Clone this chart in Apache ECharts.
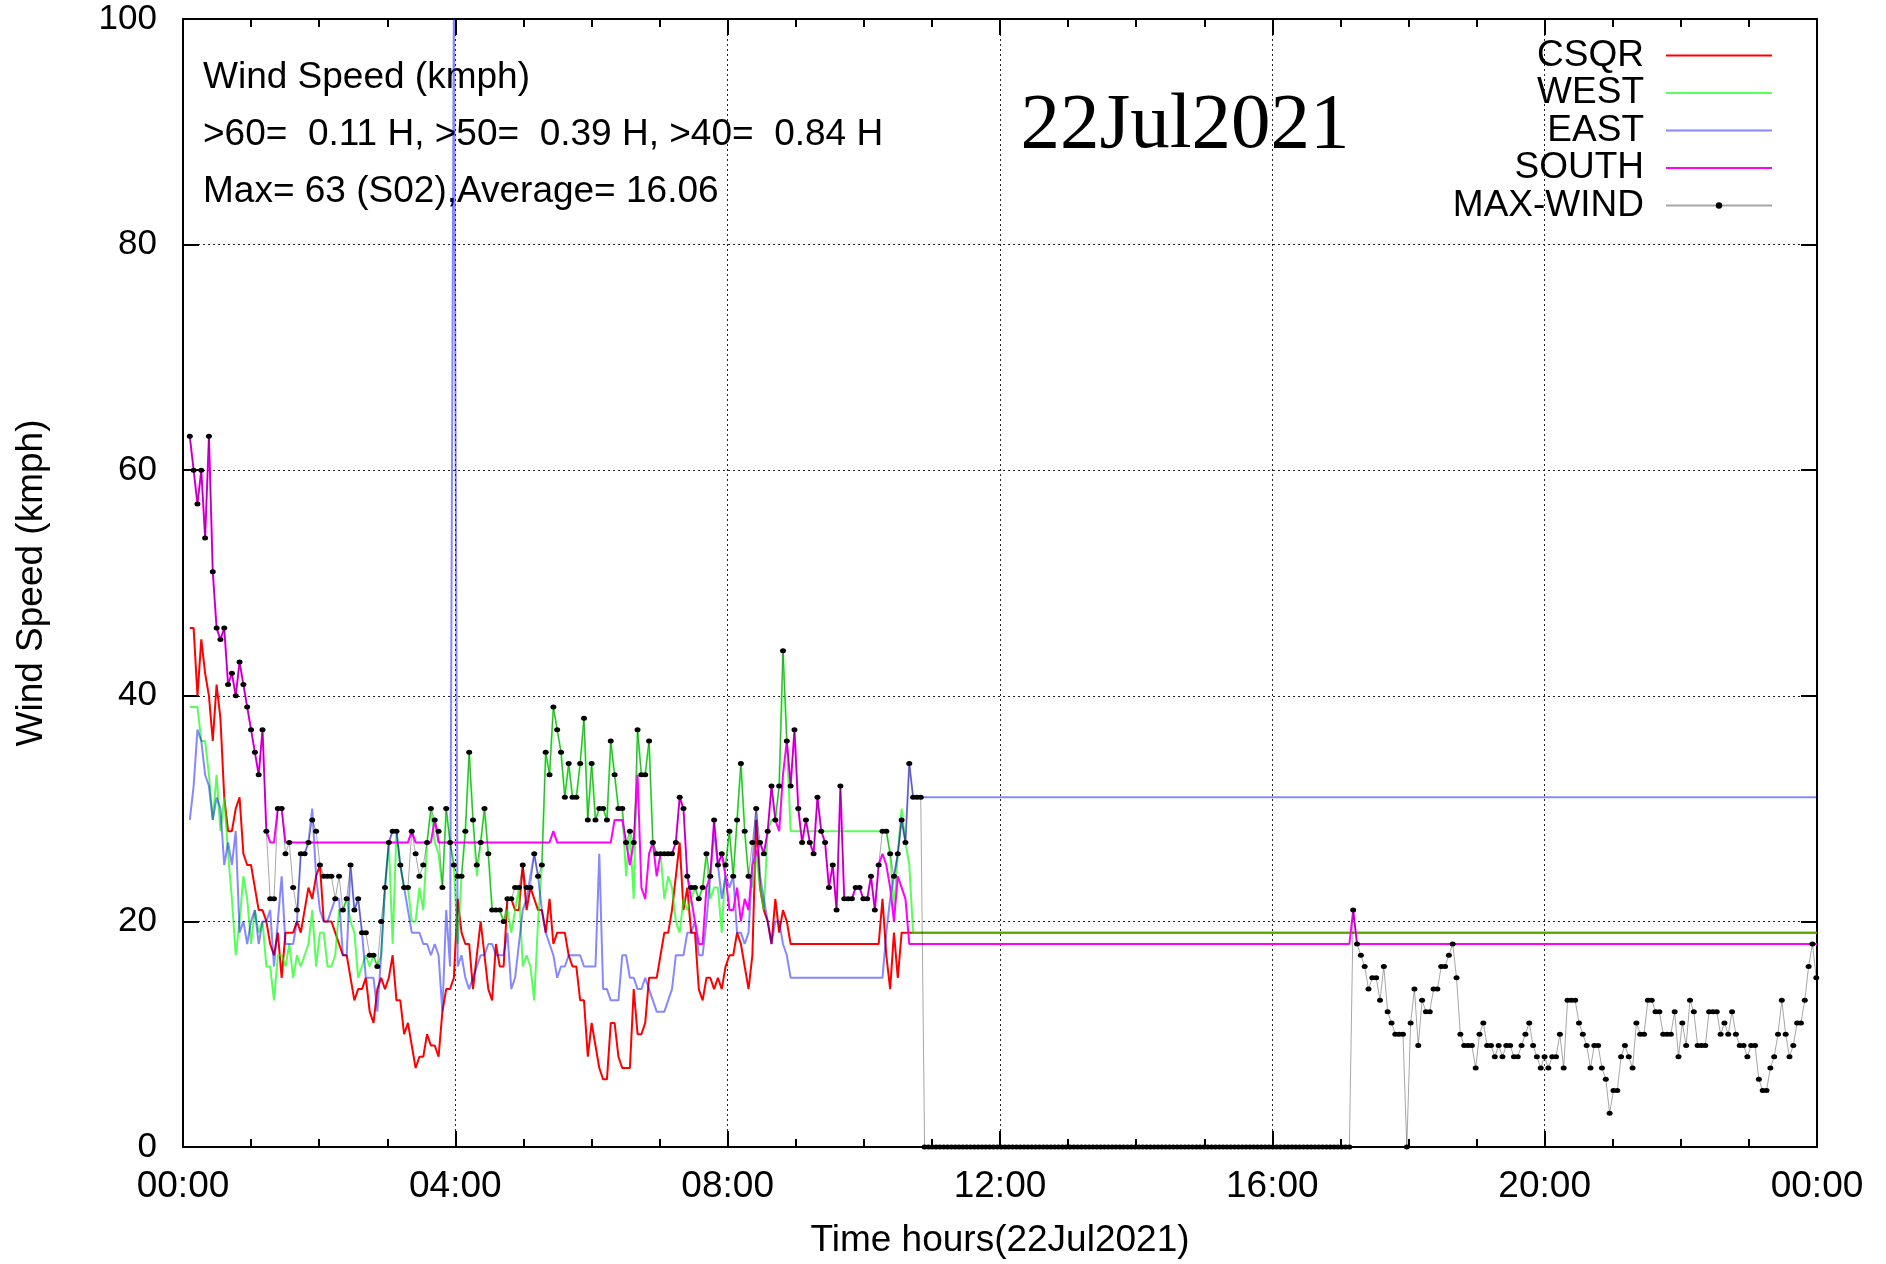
<!DOCTYPE html>
<html><head><meta charset="utf-8">
<script src="https://cdn.jsdelivr.net/npm/echarts@6/dist/echarts.min.js"></script>
<style>html,body{margin:0;padding:0;background:#fff;}#c{width:1886px;height:1264px;}</style>
</head><body><div id="c"></div>
<script>
// ---------- data ----------
const seriesNames = ['CSQR', 'WEST', 'EAST', 'SOUTH', 'MAX-WIND'];
const xTickLabels = ['00:00', '04:00', '08:00', '12:00', '16:00', '20:00', '00:00'];
const infoLines = ['Wind Speed (kmph)', '>60=  0.11 H, >50=  0.39 H, >40=  0.84 H', 'Max= 63 (S02),Average= 16.06'];
const dateTitle = '22Jul2021';
const sampleStart = 0.10;    // hour of first sample
const sampleStep = 0.05621;  // hours between samples (~3.4 min)
const dayEnd = 24;

// morning samples (index 0..191) for the four stations
const csqr = [46,46,40,45,42,40,36,41,38,31, 28,28,30,31,26,25,25,23,21,21, 20,18,17,19,15,19,19,19,20,19,
  21,23,22,24,25,20,20,20,19,18, 17,17,15,13,14,14,15,12,11,14, 15,14,15,17,13,13,10,11,9,7,
  8,8,10,9,9,8,12,14,14,15, 22,19,18,18,14,17,20,17,14,13, 18,16,16,22,22,21,21,25,21,23,
  22,21,21,19,22,18,19,19,19,17, 16,16,13,13,8,11,9,7,6,6, 11,11,8,7,7,7,14,10,10,11,
  15,15,15,17,19,19,21,24,27,21, 23,19,19,14,13,15,15,14,15,14, 16,17,17,19,18,16,14,17,29,23,
  21,20,18,22,19,21,20,18,18,18, 18,18,18,18,18,18,18,18,18,18, 18,18,18,18,18,18,18,18,18,18,
  18,22,17,14,19,15,19,19,19,19, 19,19];
const west = [39,39,39,36,36,33,29,33,28,31, 26,22,17,20,24,22,18,21,19,20, 16,16,13,17,17,16,18,15,17,16,
  17,18,21,16,19,19,16,16,17,21, 21,22,20,19,15,16,17,16,17,16, 17,23,27,18,28,25,23,23,20,20,
  23,21,27,30,27,26,23,30,27,25, 18,24,28,35,29,24,27,30,26,21, 21,21,20,21,19,21,23,16,17,16,
  13,20,25,35,33,39,37,35,31,34, 31,31,34,38,29,34,29,30,30,29, 36,33,30,30,24,28,22,37,33,33,
  36,27,26,26,22,24,23,20,19,22, 21,22,23,22,23,26,22,23,23,19, 25,28,24,29,34,28,24,23,26,23,
  21,28,29,29,32,44,36,28,28,28, 28,28,28,28,28,28,28,28,28,28, 28,28,28,28,28,28,28,28,28,28,
  28,28,28,26,21,26,30,27,25,19, 19,19];
const east = [29,32,37,36,33,32,29,31,30,25, 27,25,28,19,20,18,20,21,18,20, 20,21,16,20,24,18,18,18,20,26,
  26,27,30,24,21,20,20,21,22,22, 17,17,25,21,22,19,15,15,15,12, 17,23,27,28,28,25,23,21,19,19,
  19,18,18,17,18,17,12,21,16,102, 16,17,15,14,15,16,17,17,18,18, 17,17,17,19,14,15,18,21,22,24,
  26,24,21,19,18,17,15,16,16,17, 17,17,17,16,16,16,16,26,14,14, 13,13,13,17,17,15,15,14,14,15,
  14,13,12,12,12,13,14,17,17,17, 19,19,20,17,17,20,24,28,25,22, 24,23,24,19,19,18,19,25,30,24,
  22,20,18,20,20,18,17,15,15,15, 15,15,15,15,15,15,15,15,15,15, 15,15,15,15,15,15,15,15,15,15,
  15,15,19,22,24,26,29,27,34,31, 31,31];
const south = [63,60,57,60,54,63,51,46,45,46, 41,42,40,43,41,39,37,35,33,37, 28,27,27,30,30,27,27,27,27,27,
  27,27,27,27,27,27,27,27,27,27, 27,27,27,27,27,27,27,27,27,27, 27,27,27,27,27,27,27,27,28,27,
  27,27,27,27,29,27,27,27,27,27, 27,27,27,27,27,27,27,27,27,27, 27,27,27,27,27,27,27,27,27,27,
  27,27,27,27,27,28,27,27,27,27, 27,27,27,27,27,27,27,27,27,27, 27,29,29,29,27,25,27,33,23,22,
  26,27,24,26,26,26,26,27,31,30, 24,22,20,18,18,23,24,29,25,26, 24,21,21,23,20,22,21,25,26,27,
  26,28,32,29,28,33,36,32,37,30, 27,29,27,26,31,28,27,23,25,21, 32,22,22,22,23,23,22,22,24,21,
  25,26,25,23,20,24,23,22,18,18, 18,18];
// SOUTH late-day blip (sample indexes and values)
const southLateIdx = [303, 304, 305];
const southLate = [18, 21, 18];

// MAX-WIND, all samples of the day
const maxMorning = [63,60,57,60,54,63,51,46,45,46, 41,42,40,43,41,39,37,35,33,37, 28,22,22,30,30,26,27,23,21,26,
  26,27,29,28,25,24,24,24,22,24, 21,22,25,21,22,19,19,17,17,16, 20,23,27,28,28,25,23,23,28,26,
  24,25,27,30,29,28,23,30,27,25, 24,24,28,35,29,25,27,30,26,21, 21,21,20,22,22,23,23,25,23,23,
  26,24,25,35,33,39,37,35,31,34, 31,31,34,38,29,34,29,30,30,29, 36,33,30,30,27,28,27,37,33,33,
  36,27,26,26,26,26,26,27,31,30, 24,23,23,22,23,26,24,29,25,26, 25,28,24,29,34,28,24,27,30,27,
  26,28,32,29,32,44,36,32,37,30, 27,29,27,26,31,28,27,23,25,21, 32,22,22,22,23,23,22,22,24,21,
  25,28,28,26,24,26,29,27,34,31, 31,31];
const maxCalm = [0,0,0,0,0,0,0,0,0,0, 0,0,0,0,0,0,0,0,0,0, 0,0,0,0,0,0,0,0,0,0, 0,0,0,0,0,0,0,0,0,0,
  0,0,0,0,0,0,0,0,0,0, 0,0,0,0,0,0,0,0,0,0, 0,0,0,0,0,0,0,0,0,0, 0,0,0,0,0,0,0,0,0,0,
  0,0,0,0,0,0,0,0,0,0, 0,0,0,0,0,0,0,0,0,0, 0,0,0,0,0,0,0,0,0,0, 0,0];
const maxEvening = [21,18,17,16,14,15,15,13,16,12, 11,10,10,10,0,11,14,9,13,12, 12,14,14,16,16,17,18,15,10,9,
  9,9,7,10,11,9,9,8,9,8, 9,9,8,8,9,10,11,9,8,7, 8,7,8,8,10,7,13,13,13,
  11,10,9,7,9,9,7,6,3,5, 5,8,9,8,7,11,10,10,13,13, 12,12,10,10,10,12,8,11,9,13,
  12,9,9,9,12,12,12,10,11,10, 12,10,9,9,8,9,9,6,5,5, 7,8,10,13,10,8,9,11,11,13, 16,18,15];

// ---------- build ----------
const tAt = i => sampleStart + i * sampleStep;
const toPts = arr => arr.map((v, i) => [tAt(i), v]);
const holdToEnd = arr => toPts(arr).concat([[dayEnd, arr[arr.length - 1]]]);
const maxWind = maxMorning.concat(maxCalm, maxEvening);

const southData = toPts(south)
  .concat(southLateIdx.map((idx, k) => [tAt(idx), southLate[k]]))
  .concat([[dayEnd, southLate[southLate.length - 1]]]);

const FONT = '"Liberation Sans", Arial, Helvetica, sans-serif';
const FS = 37;
const TICK_FS = 35;
const colors = ['#ff0000', 'rgba(0,255,0,0.65)', 'rgba(0,0,255,0.47)', '#ff00ff'];
const lineSeries = (name, data, color) => ({
  type: 'line', name, data, symbol: 'none', silent: true,
  lineStyle: { color, width: 2 }, itemStyle: { color },
  emphasis: { disabled: true }, clip: true
});

const gridDash = { color: '#222', width: 1, type: [2, 3] };
const tickStyle = { color: '#000', width: 2 };

const option = {
  animation: false,
  backgroundColor: '#ffffff',
  textStyle: { fontFamily: FONT },
  grid: { left: 183, top: 19, right: 69, bottom: 114.5, containLabel: false },
  legend: {
    orient: 'vertical', right: 113, top: 37, align: 'right', padding: 0,
    itemWidth: 106, itemHeight: 8, itemGap: 0.5, selectedMode: false,
    textStyle: { fontSize: FS, color: '#000', fontFamily: FONT, padding: [0, 17, 0, 0] },
    data: [
      { name: seriesNames[0], itemStyle: { opacity: 0 } },
      { name: seriesNames[1], itemStyle: { opacity: 0 } },
      { name: seriesNames[2], itemStyle: { opacity: 0 } },
      { name: seriesNames[3], itemStyle: { opacity: 0 } },
      { name: seriesNames[4] }
    ]
  },
  xAxis: [{
    type: 'value', min: 0, max: 24, interval: 4, position: 'bottom',
    name: 'Time hours(22Jul2021)', nameLocation: 'middle', nameGap: 75,
    nameTextStyle: { fontSize: FS, color: '#000', fontFamily: FONT },
    axisLine: { show: true, onZero: false, lineStyle: { color: '#000', width: 2 } },
    axisTick: { show: true, inside: true, length: 16, lineStyle: tickStyle },
    minorTick: { show: true, splitNumber: 4, length: 8, lineStyle: tickStyle },
    axisLabel: { fontSize: FS, color: '#000', margin: 21, fontFamily: FONT,
      formatter: v => xTickLabels[Math.round(v / 4)] },
    splitLine: { show: true, lineStyle: gridDash }
  }, {
    type: 'value', min: 0, max: 24, interval: 4, position: 'top',
    axisLine: { show: true, onZero: false, lineStyle: { color: '#000', width: 2 } },
    axisTick: { show: true, inside: true, length: 16, lineStyle: tickStyle },
    minorTick: { show: true, splitNumber: 4, length: 8, lineStyle: tickStyle },
    axisLabel: { show: false }, splitLine: { show: false }
  }],
  yAxis: [{
    type: 'value', min: 0, max: 100, interval: 20, position: 'left',
    name: 'Wind Speed (kmph)', nameLocation: 'middle', nameGap: 133,
    nameTextStyle: { fontSize: FS, color: '#000', fontFamily: FONT },
    axisLine: { show: true, onZero: false, lineStyle: { color: '#000', width: 2 } },
    axisTick: { show: true, inside: true, length: 16, lineStyle: tickStyle },
    axisLabel: { fontSize: TICK_FS, color: '#000', margin: 26, fontFamily: FONT },
    splitLine: { show: true, lineStyle: gridDash }
  }, {
    type: 'value', min: 0, max: 100, interval: 20, position: 'right',
    axisLine: { show: true, onZero: false, lineStyle: { color: '#000', width: 2 } },
    axisTick: { show: true, inside: true, length: 16, lineStyle: tickStyle },
    axisLabel: { show: false }, splitLine: { show: false }
  }],
  graphic: [
    { type: 'text', x: 203, y: 77.5, silent: true,
      style: { text: infoLines[0], font: FS + 'px ' + FONT, fill: '#000', verticalAlign: 'middle' } },
    { type: 'text', x: 203, y: 134.5, silent: true,
      style: { text: infoLines[1], font: FS + 'px ' + FONT, fill: '#000', verticalAlign: 'middle' } },
    { type: 'text', x: 203, y: 191.5, silent: true,
      style: { text: infoLines[2], font: FS + 'px ' + FONT, fill: '#000', verticalAlign: 'middle' } },
    { type: 'text', x: 1185, y: 126, silent: true,
      style: { text: dateTitle, font: '79px "Liberation Serif", "Times New Roman", serif', fill: '#000',
        align: 'center', verticalAlign: 'middle' } }
  ],
  series: [
    lineSeries(seriesNames[0], holdToEnd(csqr), colors[0]),
    lineSeries(seriesNames[1], holdToEnd(west), colors[1]),
    lineSeries(seriesNames[2], holdToEnd(east), colors[2]),
    lineSeries(seriesNames[3], southData, colors[3]),
    {
      type: 'line', name: seriesNames[4], data: toPts(maxWind), silent: true, clip: true,
      symbol: 'circle', symbolSize: [6, 5], showSymbol: true,
      itemStyle: { color: '#000' },
      lineStyle: { color: 'rgba(0,0,0,0.35)', width: 1 },
      emphasis: { disabled: true }
    }
  ]
};

const chart = echarts.init(document.getElementById('c'), null, { renderer: 'canvas' });
chart.setOption(option);
</script>
</body></html>
